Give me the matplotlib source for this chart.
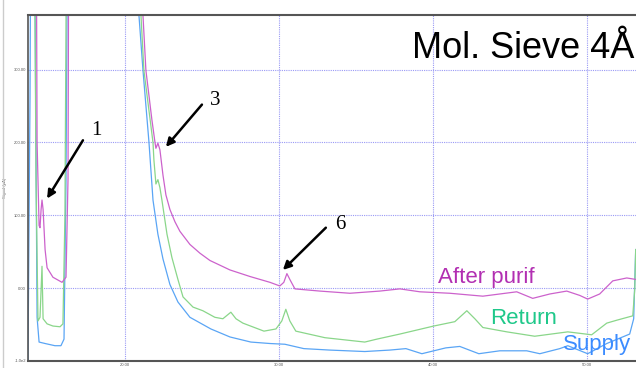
"""Chromatogram overlay: supply / return / after purification (Mol. Sieve 4A)."""
import matplotlib

matplotlib.use("Agg")
import matplotlib.pyplot as plt  # noqa: E402
from matplotlib.lines import Line2D  # noqa: E402

plt.rcParams.update({
    "font.family": ["Liberation Sans", "DejaVu Sans"],
    "figure.facecolor": "white", "axes.facecolor": "white",
})

# traces (time in min, signal in pA); 600 = off scale
supply_t = [13.70, 13.83, 13.90, 14.10, 14.22, 14.29, 14.42, 14.81, 15.45,
            15.84, 16.04, 16.17, 16.30, 20.84, 20.91, 21.17, 21.56, 21.82,
            22.14, 22.47, 22.92, 23.44, 24.22, 25.58, 26.82, 28.18, 29.42,
            30.39, 31.62, 33.31, 35.58, 37.21, 38.25, 39.29, 40.84, 41.75,
            42.99, 44.35, 46.10, 46.95, 48.25, 48.77, 50.06, 51.30, 52.79,
            53.05, 53.18]
supply_y = [-98, 260, 600, 600, 180, -40, -74, -76, -79,
            -79, -70, 150, 600, 600, 374, 299, 200, 121,
            74, 40, 5, -19, -40, -56, -67, -74, -76,
            -77, -83, -85, -87, -85, -83, -90, -82, -80,
            -90, -86, -86, -90, -83, -79, -90, -76, -63,
            -42, 53]

return_t = [13.70, 14.09, 14.22, 14.35, 14.48, 14.61, 14.68, 14.94, 15.32,
            15.78, 15.97, 16.10, 16.23, 20.97, 21.04, 21.23, 21.82, 21.88,
            22.01, 22.14, 22.27, 22.40, 22.73, 23.05, 23.44, 23.77, 24.42,
            25.06, 25.84, 26.36, 26.88, 27.21, 27.66, 29.03, 29.81, 30.19,
            30.45, 30.71, 31.10, 32.99, 35.58, 36.36, 37.86, 40.06, 41.43,
            42.21, 42.73, 43.25, 44.81, 46.62, 48.77, 50.32, 51.30, 51.95,
            52.99, 53.12, 53.18]
return_y = [600, 600, 150, -45, -40, 30, -42, -49, -52,
            -53, -49, 100, 600, 600, 374, 299, 200, 176,
            143, 149, 138, 121, 74, 42, 12, -12, -26,
            -31, -40, -42, -33, -42, -48, -59, -56, -45,
            -29, -45, -59, -68, -74, -70, -63, -52, -46,
            -31, -42, -54, -60, -66, -60, -64, -48, -44,
            -38, -1, 53]

purif_t = [13.70, 14.22, 14.29, 14.42, 14.48, 14.55, 14.61, 14.68, 14.81,
           14.94, 15.32, 15.91, 16.17, 16.30, 16.36, 21.10, 21.17, 21.36,
           21.75, 21.95, 22.01, 22.14, 22.27, 22.47, 22.66, 22.92, 23.25,
           23.57, 24.22, 24.87, 25.52, 26.82, 28.12, 29.42, 30.06, 30.32,
           30.52, 30.71, 31.04, 32.66, 34.61, 36.56, 37.86, 39.16, 41.10,
           43.25, 45.45, 46.49, 47.60, 48.70, 49.55, 50.06, 50.84, 51.69,
           52.60, 53.18]
purif_y = [600, 600, 200, 86, 83, 108, 121, 108, 53,
           28, 15, 8, 15, 150, 600, 600, 374, 299,
           231, 200, 192, 199, 190, 155, 128, 108, 91,
           78, 60, 48, 38, 25, 16, 8, 3, 8,
           20, 12, -1, -4, -7, -4, -1, -5, -7,
           -11, -5, -14, -8, -4, -10, -15, -8, 10,
           14, 12]

x_ticks = [20, 30, 40, 50]
x_tick_labels = ["20.00", "30.00", "40.00", "50.00"]
y_ticks = [-100, 0, 100, 200, 300]
y_tick_labels = ["-1.0e2", "0.00", "100.00", "200.00", "300.00"]

# peak callouts: label, text pos, arrow tail, arrow tip
peaks = [("1", (18.12, 217), (17.27, 203), (14.94, 123)),
         ("3", (25.84, 258), (25.00, 252), (22.66, 194)),
         ("6", (33.96, 87), (33.05, 83), (30.26, 25))]

fig = plt.figure(figsize=(6.36, 3.68), dpi=100)
ax = fig.add_axes([28 / 636, 7 / 368, 608 / 636, 346 / 368])

ax.plot(supply_t, supply_y, color="#5aa5f5", lw=0.9)
ax.plot(return_t, return_y, color="#8ad68a", lw=0.9)
ax.plot(purif_t, purif_y, color="#cc62cc", lw=0.9)

ax.set_xlim(13.7, 53.2)
ax.set_ylim(-100, 375)
ax.set_xticks(x_ticks, x_tick_labels)
ax.set_yticks(y_ticks, y_tick_labels)
ax.tick_params(length=0, labelsize=3, labelcolor="#555555", pad=1.5)
ax.set_ylabel("Signal (pA)", fontsize=3, color="#555555", labelpad=5)
ax.grid(True, color="#9a9af5", lw=0.8, ls=(0, (1, 1)))
ax.set_axisbelow(True)
for side, lw in [("top", 1.5), ("left", 1.2), ("bottom", 1.5)]:
    ax.spines[side].set_color("#555555")
    ax.spines[side].set_linewidth(lw)
ax.spines["right"].set_visible(False)

for label, txt, tail, tip in peaks:
    ax.annotate("", xy=tip, xytext=tail,
                arrowprops=dict(arrowstyle="-|>", color="black", lw=1.8,
                                mutation_scale=12, shrinkA=0, shrinkB=0))
    ax.text(*txt, label, fontsize=15, family="Liberation Serif",
            ha="center", va="center")

fig.text(0.998, 1 - 58 / 368, "Mol. Sieve 4Å", fontsize=26, ha="right",
         va="baseline")
fig.text(438 / 636, 1 - 283 / 368, "After purif", fontsize=16,
         color="#b22fb2", va="baseline")
fig.text(490 / 636, 1 - 324 / 368, "Return", fontsize=16,
         color="#1fc88a", va="baseline")
fig.text(563 / 636, 1 - 350 / 368, "Supply", fontsize=16,
         color="#3c8cff", va="baseline")
fig.add_artist(Line2D([3 / 636, 3 / 636], [0, 1], color="#cccccc", lw=1))

fig.savefig("out.png", dpi=100)
